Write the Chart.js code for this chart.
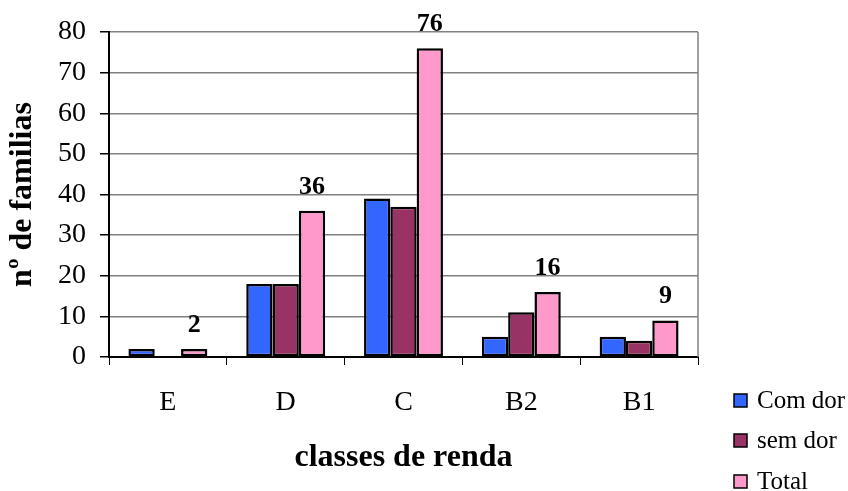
<!DOCTYPE html>
<html lang="pt">
<head>
    <meta charset="UTF-8">
    <title>nº de familias por classes de renda</title>
    <script src="https://cdn.jsdelivr.net/npm/chart.js"></script>
    <style>
        body {
            margin: 0;
            background: #fff;
        }

        .chart-box {
            position: relative;
            width: 848px;
            height: 491px;
        }
    </style>
</head>
<body>
    <div class="chart-box">
        <canvas id="rendaChart" width="848" height="491"></canvas>
    </div>

    <script>
        // Data
        const classes = ['E', 'D', 'C', 'B2', 'B1'];
        const comDor = [2, 18, 39, 5, 5];
        const semDor = [0, 18, 37, 11, 4];
        const total = [2, 36, 76, 16, 9];
        const seriesNames = ['Com dor', 'sem dor', 'Total'];
        const yTicks = [0, 10, 20, 30, 40, 50, 60, 70, 80];

        const serif = "'Liberation Serif', 'Times New Roman', serif";
        const colors = ['#3366FF', '#993366', '#FF99CC'];

        // Labels on top of the Total bars
        const totalLabels = {
            id: 'totalLabels',
            afterDatasetsDraw(chart) {
                const ctx = chart.ctx;
                const meta = chart.getDatasetMeta(2);
                ctx.save();
                ctx.font = 'bold 26px ' + serif;
                ctx.fillStyle = '#000';
                ctx.textAlign = 'center';
                ctx.textBaseline = 'alphabetic';
                meta.data.forEach((bar, i) => {
                    ctx.fillText(total[i], bar.x, bar.y - 17);
                });
                ctx.restore();
            }
        };

        // Right border of the plot + legend at the bottom right
        const frameAndLegend = {
            id: 'frameAndLegend',
            afterDraw(chart) {
                const ctx = chart.ctx;
                const area = chart.chartArea;
                ctx.save();
                ctx.strokeStyle = '#808080';
                ctx.lineWidth = 1.5;
                ctx.beginPath();
                ctx.moveTo(area.right, area.top);
                ctx.lineTo(area.right, area.bottom);
                ctx.stroke();

                ctx.font = '25px ' + serif;
                ctx.textBaseline = 'middle';
                ctx.textAlign = 'left';
                const rows = [400, 440, 481];
                chart.data.datasets.forEach((ds, i) => {
                    const y = rows[i];
                    ctx.fillStyle = ds.backgroundColor;
                    ctx.fillRect(734, y - 6, 13, 13);
                    ctx.strokeStyle = '#000';
                    ctx.lineWidth = 1.5;
                    ctx.strokeRect(734, y - 6, 13, 13);
                    ctx.fillStyle = '#000';
                    ctx.fillText(ds.label, 757, y + 1);
                });
                ctx.restore();
            }
        };

        const ctx = document.getElementById('rendaChart').getContext('2d');
        new Chart(ctx, {
            type: 'bar',
            data: {
                labels: classes,
                datasets: [comDor, semDor, total].map((values, i) => ({
                    label: seriesNames[i],
                    data: values,
                    backgroundColor: colors[i],
                    borderColor: '#000',
                    borderWidth: 2.5,
                    borderSkipped: false,
                    categoryPercentage: 0.67,
                    barPercentage: 1
                }))
            },
            options: {
                responsive: false,
                animation: false,
                layout: {
                    padding: { left: 0, top: 32, right: 150, bottom: 0 }
                },
                plugins: {
                    legend: { display: false },
                    tooltip: { enabled: false }
                },
                scales: {
                    x: {
                        afterFit(scale) { scale.height = 134; },
                        grid: {
                            drawOnChartArea: false,
                            drawTicks: true,
                            tickLength: 8,
                            tickColor: '#000',
                            offset: true
                        },
                        border: { color: '#000', width: 2 },
                        ticks: {
                            color: '#000',
                            padding: 21,
                            font: { family: serif, size: 28 }
                        },
                        title: {
                            display: true,
                            text: 'classes de renda',
                            color: '#000',
                            padding: { top: 0, bottom: 14 },
                            font: { family: serif, size: 32, weight: 'bold' }
                        }
                    },
                    y: {
                        min: 0,
                        max: 80,
                        afterFit(scale) { scale.width = 109; },
                        afterBuildTicks(scale) {
                            scale.ticks = yTicks.map(v => ({ value: v }));
                        },
                        grid: {
                            color: '#808080',
                            lineWidth: 1.5,
                            drawTicks: true,
                            tickLength: 9,
                            tickColor: '#000'
                        },
                        border: { color: '#000', width: 2 },
                        ticks: {
                            color: '#000',
                            padding: 14,
                            font: { family: serif, size: 28 }
                        },
                        title: {
                            display: true,
                            text: 'nº de familias',
                            color: '#000',
                            padding: { top: 4, bottom: 0 },
                            font: { family: serif, size: 32, weight: 'bold' }
                        }
                    }
                }
            },
            plugins: [totalLabels, frameAndLegend]
        });
    </script>
</body>
</html>
